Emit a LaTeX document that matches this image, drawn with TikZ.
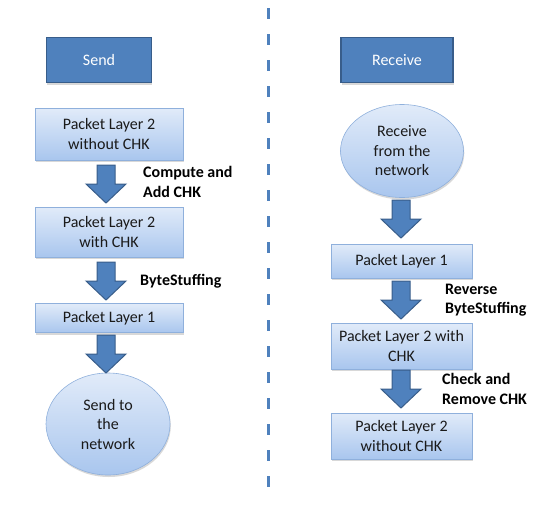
\documentclass[tikz,border=0pt]{standalone}
\usepackage{fontspec}
\setmainfont{Carlito}
\usetikzlibrary{shadows,shapes.geometric,calc}
\definecolor{hdrfill}{HTML}{4F81BD}
\definecolor{hdrline}{HTML}{385D8A}
\definecolor{boxtop}{HTML}{E1EBF9}
\definecolor{boxbot}{HTML}{A9C6EE}
\definecolor{boxline}{HTML}{8FB0DC}
\definecolor{txt}{HTML}{1A1A1A}
\tikzset{
  hdr/.style={draw=hdrline, line width=1.6pt, fill=hdrfill, text=white,
    font=\fontsize{16}{19.5}\selectfont, inner sep=0pt,
    drop shadow={shadow xshift=0.5pt, shadow yshift=-2pt, fill=black!30}},
  pbox/.style={draw=boxline, line width=0.6pt, top color=boxtop, bottom color=boxbot,
    text=txt, font=\fontsize{16}{19.5}\selectfont, align=center, inner sep=0pt,
    drop shadow={shadow xshift=0.8pt, shadow yshift=-2pt, fill=black!30}},
  pell/.style={ellipse, draw=boxline, line width=0.6pt, top color=boxtop, bottom color=boxbot,
    text=txt, font=\fontsize{16}{19.5}\selectfont, align=center, inner sep=0pt,
    drop shadow={shadow xshift=0.8pt, shadow yshift=-2pt, fill=black!30}},
  lbl/.style={font=\fontsize{16}{19.5}\selectfont\bfseries, text=black, align=left, anchor=west, inner sep=0pt},
  barrowstyle/.style={fill=hdrfill, draw=hdrline, line width=1pt, line join=miter},
  divider/.style={draw=hdrfill, line width=3pt, dash pattern=on 11pt off 15pt}
}
\newcommand\blockarrow[2]{%
  \draw[barrowstyle] ($(#1)+(0,#2)$) ++(-9,0) -- ++(18,0) -- ++(0,19) -- ++(11,0)
    -- ++(-20,19) -- ++(-20,-19) -- ++(11,0) -- cycle;}
\begin{document}
\begin{tikzpicture}[x=1pt,y=-1pt]
\useasboundingbox (0,0) rectangle (560,504);
% divider
\coordinate (dtop) at (268,8);
\coordinate (dbot) at (268,495);
\draw[divider] (dtop) -- (dbot);
% headers
\node[hdr, minimum width=105, minimum height=45] (send) at (99,60) {Send};
\node[hdr, minimum width=112, minimum height=45] (recv) at (397,60) {Receive};
% left column
\node[pbox, minimum width=148, minimum height=52] (l1) at (109,134) {Packet Layer 2\\without CHK};
\node[pbox, minimum width=148, minimum height=50] (l2) at (109,232) {Packet Layer 2\\with CHK};
\node[pbox, minimum width=148, minimum height=29] (l3) at (109,318) {Packet Layer 1};
\node[pell, minimum width=124, minimum height=102] (l4) at (108,424) {Send to\\the\\network};
\blockarrow{106,160}{5}
\blockarrow{106,257}{5}
\blockarrow{106,332}{3}
\node[lbl] (c1) at (143,182) {Compute and\\Add CHK};
\node[lbl] (c2) at (140,281) {ByteStuffing};
% right column
\node[pell, minimum width=123, minimum height=93] (r1) at (402,151) {Receive\\from the\\network};
\node[pbox, minimum width=141, minimum height=34] (r2) at (401.5,261) {Packet Layer 1};
\node[pbox, minimum width=141, minimum height=46] (r3) at (401.5,346) {Packet Layer 2 with\\CHK};
\node[pbox, minimum width=141, minimum height=46] (r4) at (401.5,436) {Packet Layer 2\\without CHK};
\blockarrow{401,198}{2}
\blockarrow{401,278}{3}
\blockarrow{401,369}{1}
\node[lbl] (c3) at (445,300) {Reverse\\ByteStuffing};
\node[lbl] (c4) at (442,389) {Check and\\Remove CHK};
\end{tikzpicture}
\end{document}
